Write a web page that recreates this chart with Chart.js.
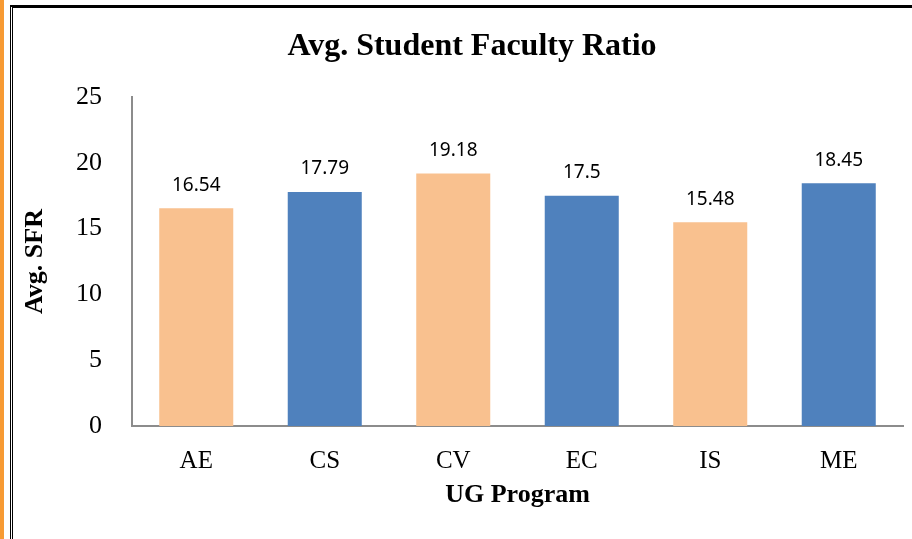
<!DOCTYPE html>
<html>
<head>
<meta charset="utf-8">
<script src="https://cdn.jsdelivr.net/npm/chart.js@4.4.1/dist/chart.umd.min.js"></script>
<style>
  html, body { margin: 0; padding: 0; background: #fff; }
  #wrap { position: relative; width: 912px; height: 539px; overflow: hidden; }
  #strip { position: absolute; left: 0; top: 0; width: 4px; height: 539px; background: #f79a33; }
  #frame { position: absolute; left: 10px; top: 5px; width: 920px; height: 600px;
           border-left: 3px double #000; border-top: 3px solid #000; box-sizing: border-box; }
  canvas { position: absolute; left: 0; top: 0; }
</style>
</head>
<body>
<div id="wrap">
  <div id="strip"></div>
  <div id="frame"></div>
  <canvas id="chart" width="912" height="539"></canvas>
</div>
<script>
// values
const programs = ['AE', 'CS', 'CV', 'EC', 'IS', 'ME'];
const sfrValues = [16.54, 17.79, 19.18, 17.5, 15.48, 18.45];
const barColors = ['#f9c18f', '#4f81bd', '#f9c18f', '#4f81bd', '#f9c18f', '#4f81bd'];
const yTicks = [0, 5, 10, 15, 20, 25];

const serif = '"Liberation Serif", "Times New Roman", serif';

// labels over the bars + the chart title
const barLabels = {
  id: 'barLabels',
  afterDatasetsDraw(chart) {
    const ctx = chart.ctx;
    const meta = chart.getDatasetMeta(0);
    ctx.save();
    ctx.fillStyle = '#000';
    ctx.font = '19px "Noto Sans", "Open Sans", sans-serif';
    ctx.textAlign = 'center';
    ctx.textBaseline = 'middle';
    meta.data.forEach((bar, i) => {
      ctx.fillText(String(sfrValues[i]), bar.x, bar.y - 23);
    });
    ctx.font = 'bold 32px ' + serif;
    ctx.fillText('Avg. Student Faculty Ratio', 472, 47);
    ctx.restore();
  }
};

new Chart(document.getElementById('chart'), {
  type: 'bar',
  data: {
    labels: programs,
    datasets: [{
      data: sfrValues,
      backgroundColor: barColors,
      borderWidth: 0,
      categoryPercentage: 1,
      barPercentage: 0.576
    }]
  },
  options: {
    responsive: false,
    animation: false,
    layout: { padding: { left: 20, right: 9, top: 97, bottom: 28 } },
    plugins: {
      legend: { display: false },
      tooltip: { enabled: false },
      title: { display: false }
    },
    scales: {
      x: {
        grid: { display: false },
        border: { display: true, color: '#8c8c8c', width: 2 },
        ticks: { color: '#000', font: { family: serif, size: 25 }, padding: 12 },
        title: {
          display: true, text: 'UG Program', color: '#000',
          font: { family: serif, size: 26, weight: 'bold' }, padding: { top: 0, bottom: 0 }
        },
        afterFit(scale) { scale.height = 85; }
      },
      y: {
        min: 0, max: 25,
        grid: { display: false },
        border: { display: true, color: '#8c8c8c', width: 2 },
        afterBuildTicks(scale) { scale.ticks = yTicks.map(v => ({ value: v })); },
        ticks: { color: '#000', font: { family: serif, size: 26 }, padding: 22 },
        title: {
          display: true, text: 'Avg. SFR', color: '#000',
          font: { family: serif, size: 26, weight: 'bold' }, padding: { top: 0, bottom: 0 }
        },
        afterFit(scale) { scale.width = 112; }
      }
    }
  },
  plugins: [barLabels]
});
</script>
</body>
</html>
